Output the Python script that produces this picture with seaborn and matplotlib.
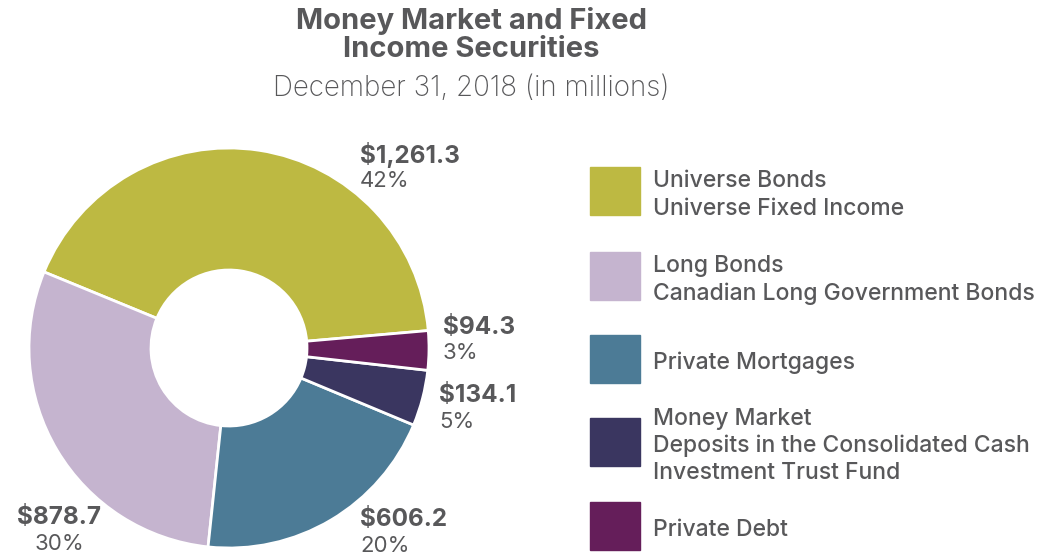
import matplotlib
matplotlib.use("Agg")
import matplotlib.pyplot as plt
from matplotlib.patches import Rectangle
import seaborn as sns

# данные
categories = ["Universe Bonds", "Long Bonds", "Private Mortgages", "Money Market", "Private Debt"]
descriptions = ["Universe Fixed Income", "Canadian Long Government Bonds", "",
                "Deposits in the Consolidated Cash\nInvestment Trust Fund", ""]
values = [1261.3, 878.7, 606.2, 134.1, 94.3]
value_labels = ["$1,261.3", "$878.7", "$606.2", "$134.1", "$94.3"]
pct_labels = ["42%", "30%", "20%", "5%", "3%"]
colors = ["#BDB942", "#C5B4CF", "#4C7B96", "#3A3660", "#651E5A"]

sns.set_theme(style="white")
plt.rcParams['font.family'] = ['Inter', 'DejaVu Sans']
text_color = "#58585A"

fig = plt.figure(figsize=(10.46, 5.57), dpi=100)

# заголовок
fig.text(0.451, 0.962, "Money Market and Fixed", ha="center", va="center",
         fontsize=21, fontweight="bold", color=text_color)
fig.text(0.451, 0.912, "Income Securities", ha="center", va="center",
         fontsize=21, fontweight="bold", color=text_color)
fig.text(0.451, 0.842, "December 31, 2018 (in millions)", ha="center", va="center",
         fontsize=20, fontweight="light", color=text_color)

# кольцевая диаграмма
ax = fig.add_axes([29 / 1046, 9 / 557, 400 / 1046, 400 / 557])
ax.pie(values, colors=colors, startangle=5, counterclock=True, radius=1.0,
       wedgeprops=dict(width=0.61, edgecolor="white", linewidth=2))
ax.set_xlim(-1, 1)
ax.set_ylim(-1, 1)
ax.set_aspect("equal")
ax.axis("off")

# подписи значений (позиции в координатах осей)
label_pos = {
    "$1,261.3": (0.655, 0.965, "left"),
    "$878.7": (-0.85, -0.85, "center"),
    "$606.2": (0.655, -0.86, "left"),
    "$134.1": (1.05, -0.24, "left"),
    "$94.3": (1.07, 0.105, "left"),
}
for vl, pl in zip(value_labels, pct_labels):
    x, y, ha = label_pos[vl]
    ax.text(x, y, vl, ha=ha, va="center", fontsize=17.5, fontweight="bold", color=text_color)
    ax.text(x, y - 0.128, pl, ha=ha, va="center", fontsize=16, color=text_color)

# легенда
lax = fig.add_axes([0, 0, 1, 1])
lax.set_xlim(0, 1046)
lax.set_ylim(557, 0)
lax.axis("off")
square_tops = [167, 252, 335, 418, 502]
for cat, desc, col, top in zip(categories, descriptions, colors, square_tops):
    lax.add_patch(Rectangle((590, top), 50, 48, color=col))
    label = cat if not desc else cat + "\n" + desc
    lax.text(653, top + 28, label, ha="left", va="center", fontsize=16.5,
             fontweight="medium", color=text_color, linespacing=1.3)

plt.savefig("out.png", dpi=100)
plt.close()
